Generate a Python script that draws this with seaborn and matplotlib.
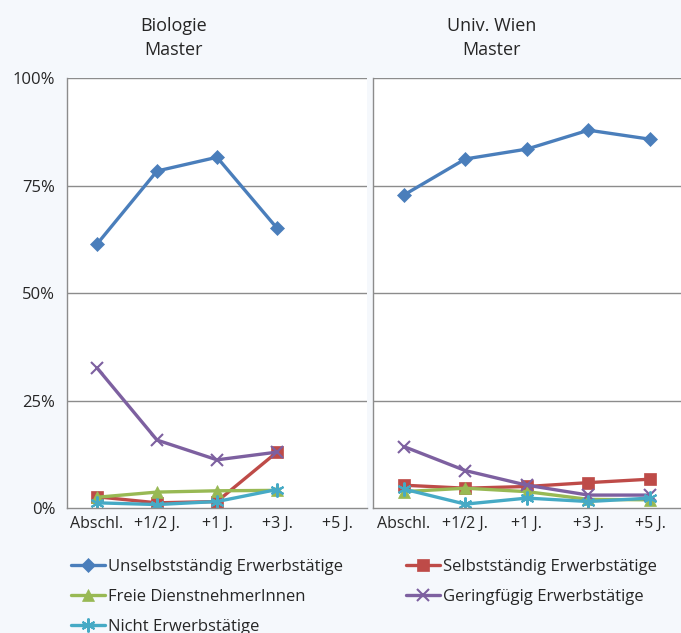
import matplotlib
matplotlib.use('Agg')

import numpy as np
import pandas as pd
import matplotlib.pyplot as plt
import seaborn as sns

sns.set_theme(style='white')
plt.rcParams['font.family'] = ['Open Sans', 'DejaVu Sans']

# ---- data (share of graduates, %) ----
zeitpunkte = ['Abschl.', '+1/2 J.', '+1 J.', '+3 J.', '+5 J.']
serien = ['Unselbstständig Erwerbstätige', 'Selbstständig Erwerbstätige',
          'Freie DienstnehmerInnen', 'Geringfügig Erwerbstätige', 'Nicht Erwerbstätige']

bio_unselbst = [61.4, 78.4, 81.6, 65.1, np.nan]
bio_selbst = [2.6, 1.2, 1.5, 13.0, np.nan]
bio_frei = [2.5, 3.7, 4.0, 4.1, np.nan]
bio_gering = [32.6, 15.8, 11.2, 13.0, np.nan]
bio_nicht = [1.2, 0.8, 1.5, 4.3, np.nan]

uni_unselbst = [72.8, 81.2, 83.5, 87.9, 85.8]
uni_selbst = [5.3, 4.6, 5.0, 5.9, 6.7]
uni_frei = [3.8, 4.6, 3.8, 2.0, 1.9]
uni_gering = [14.3, 8.7, 5.3, 3.0, 3.0]
uni_nicht = [4.4, 0.9, 2.3, 1.5, 2.3]

farben = ['#4a7ebb', '#be4b48', '#98b954', '#7d60a0', '#46aac5']
marker = ['D', 's', '^', 'x', (6, 2, 0)]
msize = [7, 8, 8, 8, 10]

panels = [
    ('Biologie\nMaster', [bio_unselbst, bio_selbst, bio_frei, bio_gering, bio_nicht]),
    ('Univ. Wien\nMaster', [uni_unselbst, uni_selbst, uni_frei, uni_gering, uni_nicht]),
]

bg = '#f5f8fc'
fig = plt.figure(figsize=(6.81, 6.33), dpi=100, facecolor=bg)
ax_pos = [[0.0984, 0.1975, 0.4405, 0.679], [0.5477, 0.1975, 0.452, 0.679]]
title_x = [0.255, 0.722]

handles = []
for i, (titel, werte) in enumerate(panels):
    ax = fig.add_axes(ax_pos[i])
    ax.set_facecolor('white')
    x = np.arange(len(zeitpunkte))
    for j, name in enumerate(serien):
        df = pd.DataFrame({'x': x, 'y': werte[j]}).dropna()
        sns.lineplot(data=df, x='x', y='y', color=farben[j], marker=marker[j],
                     markersize=msize[j], markeredgecolor=farben[j],
                     markeredgewidth=1.5 if j >= 3 else 0.5,
                     linewidth=2.4, ax=ax, label=name, legend=False)
    if i == 0:
        handles = ax.get_lines()[:len(serien)]
    ax.set_xlim(-0.5, len(zeitpunkte) - 0.5)
    ax.set_ylim(0, 100)
    ax.set_yticks([0, 25, 50, 75, 100])
    for yv in [25, 50, 75, 100]:
        ax.axhline(yv, color='#8c8c8c', linewidth=1.0, zorder=0)
    ax.set_xticks(x)
    ax.set_xticklabels(zeitpunkte, fontsize=11.5)
    ax.set_xticks(np.arange(len(zeitpunkte) + 1) - 0.5, minor=True)
    ax.tick_params(axis='x', which='major', length=0, pad=6)
    ax.tick_params(axis='x', which='minor', length=5, color='#8c8c8c', width=1, direction='out')
    ax.tick_params(axis='y', length=5, color='#8c8c8c', width=1, direction='out')
    if i == 0:
        ax.set_yticklabels(['0%', '25%', '50%', '75%', '100%'], fontsize=12)
    else:
        ax.set_yticklabels([])
    ax.set_xlabel('')
    ax.set_ylabel('')
    for s in ['top', 'right']:
        ax.spines[s].set_visible(False)
    for s in ['left', 'bottom']:
        ax.spines[s].set_color('#8c8c8c')
        ax.spines[s].set_linewidth(1.0)
    fig.text(title_x[i], 0.94, titel, ha='center', va='center', fontsize=13, linespacing=1.45)

order = [0, 2, 4, 1, 3]
fig.legend([handles[k] for k in order], [serien[k] for k in order],
           loc='upper left', bbox_to_anchor=(0.095, 0.128), ncol=2,
           frameon=False, fontsize=12, handlelength=2.0, handletextpad=0.2,
           columnspacing=3.8, labelspacing=0.85, borderaxespad=0)

fig.savefig('out.png', dpi=100, facecolor=bg)
